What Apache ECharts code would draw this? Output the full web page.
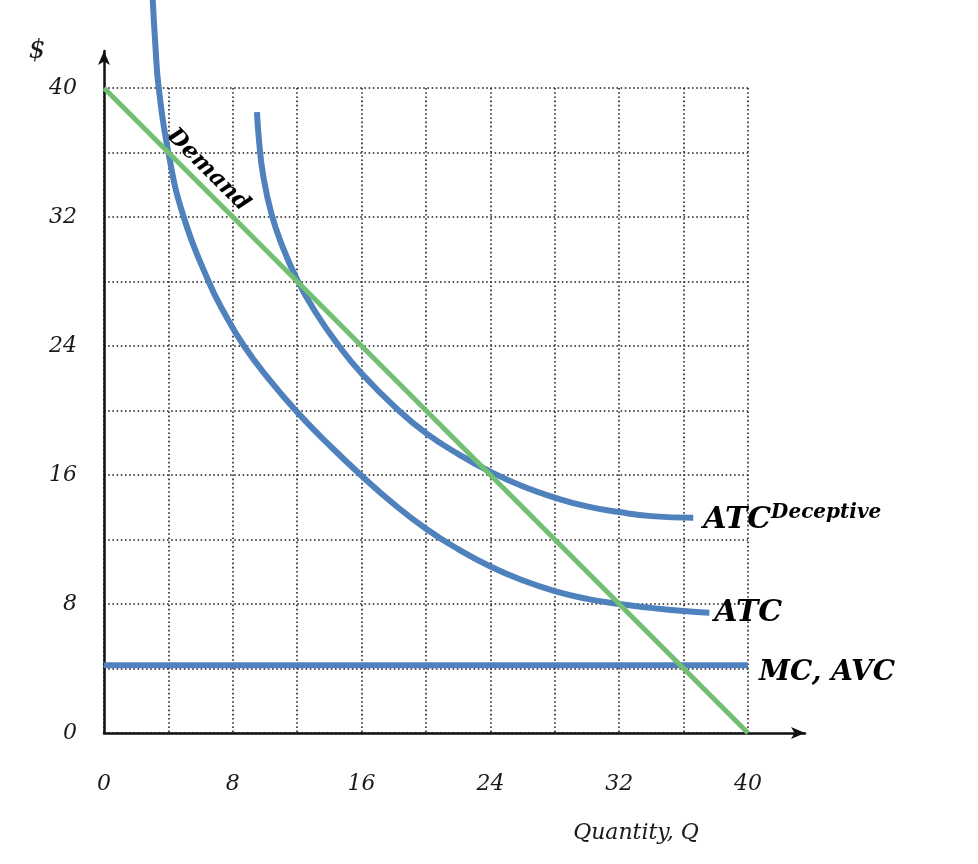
<!DOCTYPE html>
<html><head><meta charset="utf-8">
<script src="https://cdn.jsdelivr.net/npm/echarts@6/dist/echarts.min.js"></script>
<style>html,body{margin:0;padding:0;background:#fff}#c{width:978px;height:864px}</style>
</head><body><div id="c"></div>
<script>
// ---- data ----
const quantityLabels = [0, 8, 16, 24, 32, 40];
const priceLabels = [0, 8, 16, 24, 32, 40];
const demand = [[0, 40], [40, 0]];
const mcAvc = [[0, 4.2], [40, 4.2]];
const atc = [[3.0, 46], [3.2, 42.5], [3.4, 40], [4, 36], [4.95, 32], [6.5, 28], [7.5, 26],
  [8.7, 24], [10.2, 22], [12, 19.9], [14, 17.85], [16, 15.95], [18, 14.2], [20, 12.67],
  [22, 11.4], [24, 10.33], [26, 9.47], [28, 8.8], [30, 8.32], [32, 8.0], [34, 7.76],
  [36, 7.56], [37.6, 7.46]];
const atcDeceptive = [[9.5, 38.5], [9.65, 36.5], [9.9, 34.5], [10.4, 32.2], [11, 30.4],
  [12, 28.1], [13.2, 26], [14.6, 24], [16, 22.3], [18.2, 20.1], [20, 18.6], [22, 17.3],
  [24, 16.2], [26, 15.3], [28, 14.6], [30, 14.05], [32, 13.7], [34, 13.45], [36.6, 13.35]];

const SERIF = '"DejaVu Serif", "Liberation Serif", serif';
const BLUE = '#4f81bd';
const GREEN = '#72bf73';
const INK = '#111';

const gridLine = { show: true, lineStyle: { color: '#222', width: 1.6, type: [1.6, 2.6] } };
const tickFont = { fontFamily: SERIF, fontStyle: 'italic', fontSize: 22, color: '#1a1a1a' };
const arrowAxis = {
  show: true, onZero: false, symbol: ['none', 'arrow'], symbolSize: [9, 14],
  lineStyle: { color: INK, width: 2.5 }
};
const labelFont = { fontFamily: SERIF, fontStyle: 'italic', fontWeight: 'bold', color: '#000' };

const chart = echarts.init(document.getElementById('c'), null, { renderer: 'canvas' });
chart.setOption({
  animation: false,
  backgroundColor: '#fff',
  grid: [
    { left: 104, right: 230, top: 88, bottom: 131 },
    { left: 104, right: 173, top: 51, bottom: 131 }
  ],
  xAxis: [
    { type: 'value', gridIndex: 0, min: 0, max: 40, interval: 4,
      axisLine: { show: false }, axisTick: { show: false }, splitLine: gridLine,
      axisLabel: Object.assign({ margin: 40,
        formatter: v => quantityLabels.includes(v) ? String(v) : '' }, tickFont) },
    { type: 'value', gridIndex: 1, min: 0, max: 1, axisLine: arrowAxis,
      axisTick: { show: false }, axisLabel: { show: false }, splitLine: { show: false } }
  ],
  yAxis: [
    { type: 'value', gridIndex: 0, min: 0, max: 40, interval: 4,
      axisLine: { show: false }, axisTick: { show: false }, splitLine: gridLine,
      axisLabel: Object.assign({ margin: 27,
        formatter: v => priceLabels.includes(v) ? String(v) : '' }, tickFont) },
    { type: 'value', gridIndex: 1, min: 0, max: 1, axisLine: arrowAxis,
      axisTick: { show: false }, axisLabel: { show: false }, splitLine: { show: false } }
  ],
  series: [
    { name: 'MC, AVC', type: 'line', data: mcAvc, showSymbol: false, clip: false,
      lineStyle: { color: BLUE, width: 6 },
      endLabel: Object.assign({ show: true, formatter: 'MC, AVC', fontSize: 28,
        distance: 11, offset: [0, 7] }, labelFont) },
    { name: 'ATC', type: 'line', data: atc, showSymbol: false, clip: false,
      smooth: 0.5, lineStyle: { color: BLUE, width: 6 },
      endLabel: Object.assign({ show: true, formatter: 'ATC', fontSize: 30,
        distance: 5, offset: [0, 0] }, labelFont) },
    { name: 'ATC Deceptive', type: 'line', data: atcDeceptive, showSymbol: false, clip: false,
      smooth: 0.5, lineStyle: { color: BLUE, width: 6 },
      endLabel: { show: true, distance: 10, offset: [0, 2], formatter: '{a|ATC}{b|Deceptive}',
        rich: {
          a: Object.assign({ fontSize: 30, lineHeight: 34 }, labelFont),
          b: Object.assign({ fontSize: 20, lineHeight: 22, verticalAlign: 'top' }, labelFont)
        } } },
    { name: 'Demand', type: 'line', data: demand, showSymbol: false, clip: false,
      lineStyle: { color: GREEN, width: 5 } }
  ],
  graphic: [
    { type: 'text', x: 37, y: 51, style: { text: '$', font: 'italic 26px ' + SERIF,
        fill: '#1a1a1a', align: 'center', verticalAlign: 'middle' } },
    { type: 'text', x: 636, y: 833, style: { text: 'Quantity, Q', font: 'italic 22px ' + SERIF,
        fill: '#1a1a1a', align: 'center', verticalAlign: 'middle' } },
    { type: 'text', x: 208, y: 170, rotation: -Math.PI / 4,
      style: { text: 'Demand', font: 'italic bold 23px ' + SERIF, fill: '#000',
        align: 'center', verticalAlign: 'middle' } }
  ]
});
</script></body></html>
